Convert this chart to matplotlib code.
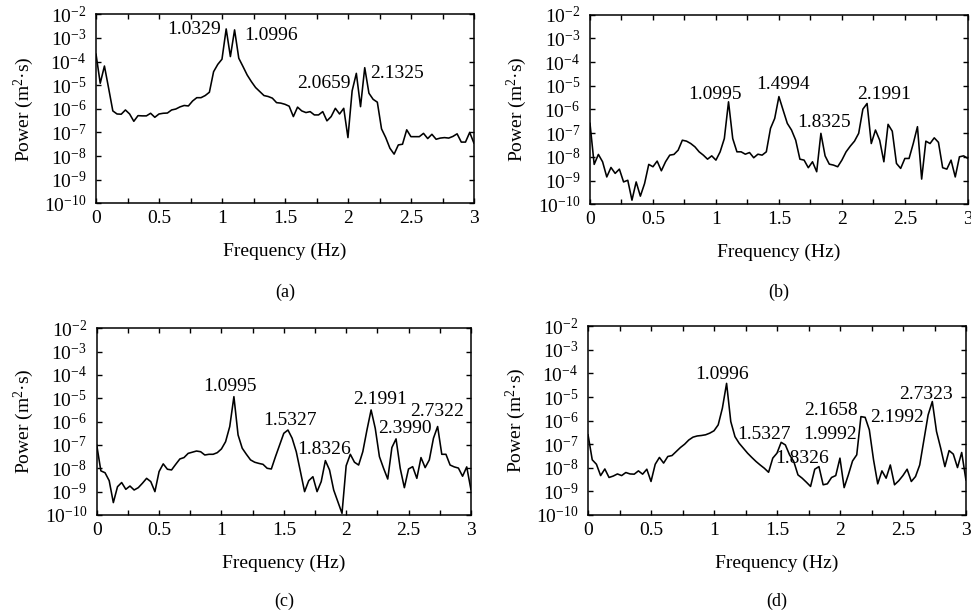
import numpy as np
import matplotlib
matplotlib.use("Agg")
import matplotlib.pyplot as plt
from matplotlib.ticker import MultipleLocator, NullLocator, FormatStrFormatter

plt.rcParams["font.family"] = ["Liberation Serif", "DejaVu Serif"]
plt.rcParams["mathtext.fontset"] = "custom"
plt.rcParams["mathtext.rm"] = "Liberation Serif"
plt.rcParams["mathtext.it"] = "Liberation Serif:italic"
plt.rcParams["font.size"] = 14

# frequency bins (Hz), spacing of the spectra
df = 0.03332
freq = np.arange(91) * df

# log10 of power spectral density
log_a = [-3.69, -4.92, -4.19, -5.13, -6.09, -6.22, -6.23, -6.05, -6.22, -6.53,
         -6.29, -6.30, -6.30, -6.19, -6.36, -6.22, -6.19, -6.18, -6.05, -6.01,
         -5.92, -5.86, -5.88, -5.67, -5.53, -5.53, -5.44, -5.30, -4.43, -4.12,
         -3.90, -2.62, -3.79, -2.66, -3.86, -4.21, -4.57, -4.85, -5.10, -5.27,
         -5.44, -5.48, -5.55, -5.74, -5.76, -5.81, -5.89, -6.33, -5.93, -6.09,
         -6.16, -6.12, -6.26, -6.26, -6.12, -6.51, -6.33, -5.98, -6.22, -5.98,
         -7.22, -5.24, -4.50, -5.91, -4.26, -5.34, -5.60, -5.72, -6.85, -7.22,
         -7.67, -7.92, -7.53, -7.50, -6.89, -7.18, -7.18, -7.18, -7.04, -7.26,
         -7.08, -7.29, -7.24, -7.22, -7.24, -7.17, -7.06, -7.41, -7.41, -7.00,
         -7.45]
log_b = [-6.59, -8.32, -7.90, -8.21, -8.85, -8.45, -8.70, -8.52, -9.06, -8.99,
         -9.83, -9.06, -9.66, -9.13, -8.32, -8.42, -8.18, -8.59, -8.21, -7.93,
         -7.90, -7.72, -7.30, -7.34, -7.44, -7.58, -7.79, -7.93, -8.10, -7.96,
         -8.14, -7.79, -7.23, -5.68, -7.23, -7.79, -7.79, -7.89, -7.82, -8.04,
         -7.89, -7.93, -7.79, -6.80, -6.38, -5.46, -6.03, -6.59, -6.87, -7.30,
         -8.10, -8.14, -8.46, -8.21, -8.63, -7.01, -7.96, -8.31, -8.35, -8.42,
         -8.14, -7.79, -7.55, -7.34, -7.01, -5.99, -5.75, -7.44, -6.87, -7.30,
         -8.21, -6.63, -6.92, -8.28, -8.49, -8.07, -8.07, -7.44, -6.73, -8.94,
         -7.34, -7.44, -7.20, -7.39, -8.46, -8.52, -8.14, -8.85, -8.00, -7.96,
         -8.07]
log_c = [-7.00, -8.11, -8.19, -8.53, -9.47, -8.79, -8.61, -8.90, -8.76, -8.93,
         -8.83, -8.64, -8.43, -8.57, -9.00, -8.14, -7.81, -8.04, -8.07, -7.83,
         -7.60, -7.54, -7.36, -7.31, -7.26, -7.29, -7.43, -7.40, -7.40, -7.33,
         -7.17, -6.86, -6.21, -4.93, -6.57, -7.14, -7.40, -7.64, -7.74, -7.79,
         -7.83, -8.00, -8.03, -7.50, -7.00, -6.50, -6.36, -6.71, -7.29, -8.14,
         -9.00, -8.53, -8.36, -9.00, -8.57, -7.67, -8.07, -8.93, -9.43, -9.93,
         -7.89, -7.40, -7.74, -7.86, -7.29, -6.36, -5.50, -6.29, -7.50, -8.00,
         -8.46, -7.11, -6.74, -8.00, -8.83, -8.03, -7.93, -8.43, -7.54, -7.97,
         -7.64, -6.71, -6.21, -7.40, -7.40, -7.86, -7.94, -7.99, -8.34, -7.94,
         -8.90]
log_d = [-6.60, -7.66, -7.85, -8.33, -8.05, -8.41, -8.35, -8.26, -8.33, -8.20,
         -8.26, -8.27, -8.13, -8.27, -8.06, -8.58, -7.85, -7.56, -7.80, -7.52,
         -7.48, -7.31, -7.14, -7.00, -6.82, -6.70, -6.65, -6.63, -6.60, -6.53,
         -6.43, -6.18, -5.47, -4.42, -6.04, -6.68, -6.96, -7.17, -7.38, -7.56,
         -7.73, -7.88, -8.02, -8.19, -7.59, -7.38, -6.92, -7.03, -7.45, -7.73,
         -8.30, -8.44, -8.61, -8.79, -8.06, -7.95, -8.72, -8.68, -8.41, -8.33,
         -7.59, -8.84, -8.30, -7.71, -7.45, -5.83, -5.86, -6.39, -7.66, -8.68,
         -8.13, -8.44, -7.88, -8.72, -8.55, -8.33, -8.06, -8.58, -8.37, -7.88,
         -6.82, -5.76, -5.19, -6.46, -7.17, -7.95, -7.27, -7.42, -7.99, -7.35,
         -8.51]

# peak labels: (text, x, log10 y) of the label centre
peaks_a = [("1.0329", 0.78, -2.66), ("1.0996", 1.39, -2.90),
           ("2.0659", 1.81, -4.93), ("2.1325", 2.39, -4.50)]
peaks_b = [("1.0995", 0.99, -5.37), ("1.4994", 1.53, -4.93),
           ("1.8325", 1.86, -6.55), ("2.1991", 2.33, -5.37)]
peaks_c = [("1.0995", 1.07, -4.51), ("1.5327", 1.55, -5.94),
           ("1.8326", 1.82, -7.21), ("2.1991", 2.27, -5.04),
           ("2.3990", 2.47, -6.29), ("2.7322", 2.73, -5.56)]
peaks_d = [("1.0996", 1.06, -4.05), ("1.5327", 1.40, -6.60),
           ("1.8326", 1.70, -7.62), ("1.9992", 1.92, -6.60),
           ("2.1658", 1.93, -5.59), ("2.1992", 2.45, -5.88),
           ("2.7323", 2.68, -4.88)]

panels = [
    ("(a)", log_a, peaks_a, [0.0989, 0.670, 0.3893, 0.3068]),
    ("(b)", log_b, peaks_b, [0.6076, 0.6685, 0.3893, 0.3078]),
    ("(c)", log_c, peaks_c, [0.0996, 0.164, 0.3855, 0.3031]),
    ("(d)", log_d, peaks_d, [0.6056, 0.164, 0.3893, 0.3063]),
]
caption_y = [0.526, 0.526, 0.024, 0.024]

fig = plt.figure(figsize=(9.71, 6.16), dpi=100)

for i, (tag, logp, peaks, rect) in enumerate(panels):
    ax = fig.add_axes(rect)
    ax.semilogy(freq, 10.0 ** np.array(logp), color="black", lw=1.15)
    for txt, px, py in peaks:
        ax.text(px, 10.0 ** py, txt, ha="center", va="center", fontsize=14)
    ax.set_xlim(0, 3)
    ax.set_ylim(1e-10, 1e-2)
    ax.set_yticks([10.0 ** e for e in range(-10, -1)])
    ax.yaxis.set_minor_locator(NullLocator())
    ax.xaxis.set_major_locator(MultipleLocator(0.5))
    ax.xaxis.set_minor_locator(MultipleLocator(0.25))
    ax.xaxis.set_major_formatter(FormatStrFormatter("%g"))
    ax.tick_params(which="both", direction="in", top=True, right=True,
                   length=3.5, width=1)
    ax.tick_params(axis="x", pad=5)
    ax.tick_params(axis="y", pad=7)
    for s in ax.spines.values():
        s.set_linewidth(1.1)
    ax.set_xlabel("Frequency (Hz)", labelpad=11)
    ax.set_ylabel("Power (m$^{2}$·s)", labelpad=6)
    fig.text(rect[0] + rect[2] / 2, caption_y[i], tag, ha="center",
             va="center", fontsize=13)

fig.savefig("out.png", dpi=100)
